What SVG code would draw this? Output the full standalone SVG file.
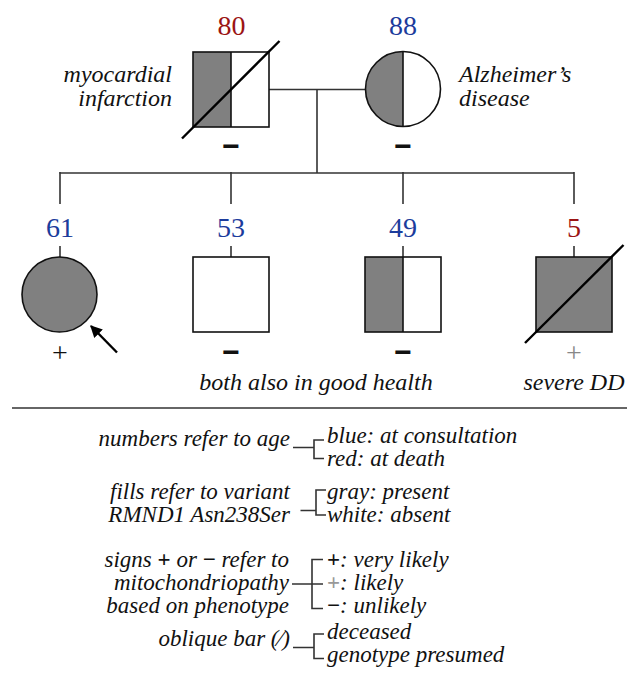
<svg xmlns="http://www.w3.org/2000/svg" width="639" height="686" viewBox="0 0 639 686">
<style>
.bg{fill:#fff}
.sym{stroke:#111;stroke-width:1.6}
.g{fill:#808080}
.w{fill:#fff}
.line{stroke:#333;stroke-width:1.6;fill:none}
.bar{stroke:#000;stroke-width:2.4}
.num{font-size:28px;text-anchor:middle}
.red{fill:#9b1414}
.blue{fill:#1c3c9c}
.it{font-style:italic;font-size:24px;fill:#111}
.lg{font-style:italic;font-size:23px;fill:#111}
.minus{font-weight:bold;font-size:30px;text-anchor:middle;fill:#111}
.plus{font-size:28px;text-anchor:middle;fill:#111}
.gp{fill:#888}
.sg{font-weight:bold;font-style:normal}
</style>
<defs>
<marker id="ah" viewBox="0 0 10 10" refX="9" refY="5" markerWidth="5" markerHeight="5" orient="auto"><path d="M0,0 L10,5 L0,10 z" fill="#000"/></marker>
</defs>
<rect class="bg" width="639" height="686"/>
<g id="connectors">
<line class="line" x1="269" y1="89.5" x2="365" y2="89.5"/>
<line class="line" x1="317" y1="89.5" x2="317" y2="173"/>
<line class="line" x1="59.5" y1="173" x2="574" y2="173"/>
<line class="line" x1="60" y1="172" x2="60" y2="204"/>
<line class="line" x1="231" y1="172" x2="231" y2="204"/>
<line class="line" x1="403" y1="172" x2="403" y2="204"/>
<line class="line" x1="574" y1="172" x2="574" y2="204"/>
<line class="line" x1="60" y1="246" x2="60" y2="257"/>
<line class="line" x1="231" y1="246" x2="231" y2="257"/>
<line class="line" x1="403" y1="246" x2="403" y2="257"/>
<line class="line" x1="574" y1="246" x2="574" y2="257"/>
</g>
<g font-family="'Liberation Serif', 'Times New Roman', Tinos, 'DejaVu Serif', serif">
<g id="father">
<text class="num red" x="231.5" y="35">80</text>
<rect class="g" x="193" y="52" width="38" height="75"/>
<rect class="w" x="231" y="52" width="38" height="75"/>
<rect class="sym" x="193" y="52" width="76" height="75" fill="none"/>
<line class="sym" x1="231" y1="52" x2="231" y2="127"/>
<line class="bar" x1="182" y1="138.5" x2="279.5" y2="41"/>
<text class="it" x="172" y="82" text-anchor="end">myocardial</text>
<text class="it" x="172" y="106" text-anchor="end">infarction</text>
<text class="minus" x="231" y="156" font-family="'Liberation Sans', Arial, sans-serif">−</text>
</g>
<g id="mother">
<text class="num blue" x="403" y="35">88</text>
<path class="g" d="M403,51.5 A37.5,37.5 0 0 0 403,126.5 Z"/>
<path class="w" d="M403,51.5 A37.5,37.5 0 0 1 403,126.5 Z"/>
<circle class="sym" cx="403" cy="89" r="37.5" fill="none"/>
<line class="sym" x1="403" y1="51.5" x2="403" y2="126.5"/>
<text class="it" x="459" y="82">Alzheimer’s</text>
<text class="it" x="459" y="106">disease</text>
<text class="minus" x="403" y="156" font-family="'Liberation Sans', Arial, sans-serif">−</text>
</g>
<g id="child1">
<text class="num blue" x="60" y="237">61</text>
<circle class="sym g" cx="59.5" cy="294.5" r="37.5"/>
<line stroke="#000" stroke-width="2.4" x1="117" y1="352.5" x2="91" y2="326" marker-end="url(#ah)"/>
<text class="plus" x="60" y="362">+</text>
</g>
<g id="child2">
<text class="num blue" x="231" y="237">53</text>
<rect class="sym w" x="193" y="257" width="76" height="75"/>
<text class="minus" x="231" y="362" font-family="'Liberation Sans', Arial, sans-serif">−</text>
</g>
<g id="child3">
<text class="num blue" x="403" y="237">49</text>
<rect class="g" x="365" y="257" width="38" height="75"/>
<rect class="w" x="403" y="257" width="38" height="75"/>
<rect class="sym" x="365" y="257" width="76" height="75" fill="none"/>
<line class="sym" x1="403" y1="257" x2="403" y2="332"/>
<text class="minus" x="403" y="362" font-family="'Liberation Sans', Arial, sans-serif">−</text>
</g>
<g id="child4">
<text class="num red" x="574" y="237">5</text>
<rect class="sym g" x="536" y="257" width="76" height="75"/>
<line class="bar" x1="525" y1="343" x2="623.5" y2="245"/>
<text class="plus gp" x="574" y="362">+</text>
</g>
<text class="it" x="316" y="390" text-anchor="middle" font-size="25">both also in good health</text>
<text class="it" x="574" y="390" text-anchor="middle">severe DD</text>
<line class="line" x1="12" y1="408" x2="627" y2="408"/>
<g id="legend">
<text class="lg" x="290" y="446" text-anchor="end">numbers refer to age</text>
<path class="line" d="M293,447.5 H314 M324,440 H314 V458.5 H324"/>
<text class="lg" x="327" y="443">blue: at consultation</text>
<text class="lg" x="327" y="466">red: at death</text>

<text class="lg" x="290" y="499" text-anchor="end">fills refer to variant</text>
<text class="lg" x="290" y="522" text-anchor="end">RMND1 Asn238Ser</text>
<path class="line" d="M300.5,510.5 H316 M326,490 H316 V515 H326"/>
<text class="lg" x="327" y="499">gray: present</text>
<text class="lg" x="327" y="522">white: absent</text>

<text class="lg" x="289" y="567" text-anchor="end">signs <tspan class="sg">+</tspan> or <tspan class="sg">−</tspan> refer to</text>
<text class="lg" x="289" y="590" text-anchor="end">mitochondriopathy</text>
<text class="lg" x="289" y="613" text-anchor="end">based on phenotype</text>
<path class="line" d="M292,584 H323 M323,559.5 H312 V608.5 H323"/>
<text class="lg" x="327" y="567"><tspan class="sg">+</tspan>: very likely</text>
<text class="lg" x="327" y="590"><tspan class="sg" fill="#999">+</tspan>: likely</text>
<text class="lg" x="327" y="613"><tspan class="sg">−</tspan>: unlikely</text>

<text class="lg" x="290" y="646" text-anchor="end">oblique bar (⁄)</text>
<path class="line" d="M293,647.5 H314 M324,634 H314 V658.5 H324"/>
<text class="lg" x="327" y="639">deceased</text>
<text class="lg" x="327" y="662">genotype presumed</text>
</g>
</g>
</svg>
